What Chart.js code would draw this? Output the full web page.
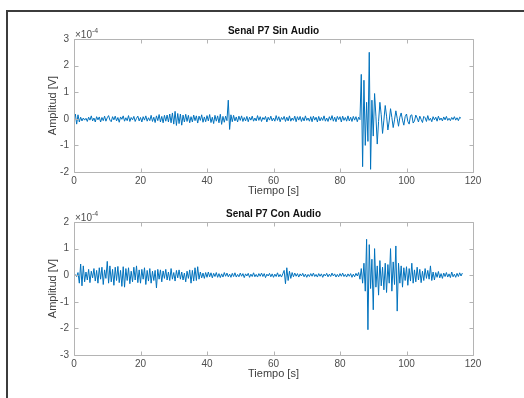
<!DOCTYPE html>
<html>
<head>
<meta charset="utf-8">
<script src="https://cdn.jsdelivr.net/npm/chart.js@4.4.1/dist/chart.umd.min.js"></script>
<style>
    html, body { margin: 0; padding: 0; background: #fff; }
    body { width: 524px; height: 398px; position: relative; overflow: hidden; }
    /* dark frame of the original screenshot (left and top edges only) */
    #frame { position: absolute; left: 6px; top: 10px; right: 0; bottom: 0; border-left: 2px solid #3c3c3c; border-top: 2px solid #3c3c3c; }
    .plot { position: absolute; left: 0; }
    #plot1 { top: 0; }
    #plot2 { top: 198px; }
</style>
</head>
<body>
<div id="frame"></div>
<canvas id="plot1" class="plot" width="524" height="200"></canvas>
<canvas id="plot2" class="plot" width="524" height="200"></canvas>
<script>
// sampling of both recordings (seconds)
var SAMPLE_STEP = 0.4;

// tick labels
var X_TICKS = [0, 20, 40, 60, 80, 100, 120];
var Y_TICKS_SIN = [-2, -1, 0, 1, 2, 3];
var Y_TICKS_CON = [-3, -2, -1, 0, 1, 2];
var Y_EXPONENT = '-4'; // values below are in units of 1e-4 V

var TITLES = ['Senal P7 Sin Audio', 'Senal P7 Con Audio'];

// Senal P7 sin audio, x 1e-4 V (one value every SAMPLE_STEP s)
var SIN_AUDIO = [
    0.00, 0.18, -0.20, 0.15, -0.12, 0.06, -0.08, 0.03, -0.05, 0.02,
    -0.10, 0.06, -0.05, 0.11, -0.08, 0.03, -0.12, 0.08, -0.04, 0.07,
    -0.12, 0.05, -0.07, 0.10, -0.09, 0.04, 0.12, -0.05, -0.11, 0.08,
    -0.04, 0.10, -0.08, 0.05, -0.13, 0.07, -0.02, 0.11, -0.09, 0.04,
    -0.07, 0.12, -0.10, 0.05, -0.04, 0.09, -0.10, 0.02, 0.10, -0.08,
    0.05, -0.12, 0.08, -0.05, 0.11, -0.09, 0.04, -0.07, 0.13, -0.10,
    0.06, -0.14, 0.11, -0.07, 0.16, -0.12, 0.09, -0.15, 0.13, -0.09,
    0.14, -0.12, 0.18, -0.15, 0.22, -0.20, 0.28, -0.25, 0.20, -0.18,
    0.18, -0.24, 0.14, -0.12, 0.17, -0.10, 0.13, -0.15, 0.08, -0.12,
    0.14, -0.07, 0.11, -0.16, 0.10, -0.06, 0.15, -0.13, 0.07, -0.11,
    0.12, -0.08, 0.16, -0.14, 0.06, -0.18, 0.13, -0.09, 0.11, -0.15,
    0.17, -0.21, 0.09, -0.13, 0.10, -0.07, 0.70, -0.40, 0.15, -0.11,
    0.13, -0.08, 0.07, -0.12, 0.10, -0.06, 0.11, -0.10, 0.05, -0.08,
    0.09, -0.11, 0.06, -0.05, 0.10, -0.09, 0.03, -0.08, 0.12, -0.06,
    0.08, -0.10, 0.05, -0.03, 0.09, -0.12, 0.06, -0.05, 0.10, -0.08,
    0.03, -0.09, 0.12, -0.06, 0.08, -0.11, 0.05, -0.03, 0.09, -0.10,
    0.06, -0.08, 0.11, -0.09, 0.03, -0.06, 0.10, -0.11, 0.08, -0.05,
    0.09, -0.10, 0.05, -0.08, 0.11, -0.06, 0.03, -0.09, 0.08, -0.11,
    0.10, -0.05, 0.06, -0.12, 0.09, -0.08, 0.05, -0.06, 0.11, -0.09,
    0.03, -0.10, 0.08, -0.05, 0.12, -0.09, 0.06, -0.11, 0.09, -0.03,
    0.08, -0.12, 0.10, -0.06, 0.05, -0.09, 0.11, -0.08, 0.06, -0.10,
    0.09, -0.05, 0.08, -0.11, 0.06, -0.03,
    1.67, -1.80, 1.45, -1.00, 0.62, -0.85, 2.50, -1.90, 0.70, -0.65,
    0.95, 0.10, -0.95, -0.10, 0.62, 0.15, -0.55, -0.05, 0.50, 0.10,
    -0.42, -0.08, 0.38, 0.05, -0.33, -0.04, 0.30, 0.02, -0.28, 0.06,
    0.22, -0.05, -0.24, 0.08, 0.18, -0.10, -0.20, 0.12, 0.15, -0.16,
    -0.08, 0.14, 0.03, -0.12, 0.10, -0.02, -0.14, 0.09, 0.04, -0.10,
    0.12, -0.06, 0.02, -0.11, 0.08, -0.04, 0.06, -0.09, 0.10, -0.05,
    0.03, -0.08, 0.07, -0.04, 0.09, -0.06, 0.02, -0.07, 0.05, -0.03,
    0.08, -0.05, 0.04, -0.07, 0.06, 0.02
];

// Senal P7 con audio, x 1e-4 V (one value every SAMPLE_STEP s)
var CON_AUDIO = [
    0.00, 0.02, -0.05, 0.10, -0.30, 0.42, -0.40, 0.35, -0.25, 0.12,
    -0.18, 0.22, -0.28, 0.15, -0.10, 0.25, -0.22, 0.18, -0.30, 0.28,
    -0.15, 0.30, -0.35, 0.20, -0.12, 0.52, -0.30, 0.35, -0.25, 0.22,
    -0.38, 0.30, -0.20, 0.33, -0.28, 0.18, -0.42, 0.32, -0.45, 0.25,
    -0.20, 0.28, -0.32, 0.15, -0.25, 0.30, -0.18, 0.35, -0.28, 0.20,
    -0.30, 0.22, -0.15, 0.28, -0.35, 0.18, -0.22, 0.25, -0.30, 0.15,
    -0.20, 0.18, -0.48, 0.22, -0.15, 0.20, -0.25, 0.16, -0.12, 0.22,
    -0.18, 0.12, -0.20, 0.25, -0.15, 0.10, -0.22, 0.18, -0.10, 0.20,
    -0.15, 0.12, -0.18, 0.08, -0.25, 0.15, -0.12, 0.20, -0.30, 0.18,
    -0.22, 0.28, -0.20, 0.32, -0.15, 0.12, -0.10, 0.08, -0.12, 0.10,
    -0.08, 0.12, -0.06, 0.09, -0.10, 0.07, -0.05, 0.10, -0.08, 0.06,
    -0.09, 0.05, -0.07, 0.10, -0.04, 0.08, -0.06, 0.04, -0.08, 0.07,
    -0.05, 0.09, -0.07, 0.03, -0.06, 0.08, -0.04, 0.06, -0.09, 0.05,
    -0.03, 0.07, -0.08, 0.04, -0.05, 0.09, -0.06, 0.03, -0.07, 0.06,
    -0.04, 0.08, -0.05, 0.06, -0.09, 0.04, -0.03, 0.07, -0.06, 0.05,
    -0.08, 0.04, -0.05, 0.09, -0.06, 0.03, -0.07, 0.05, 0.18, -0.32,
    0.28, -0.20, 0.15, -0.12, 0.10, -0.06, 0.08, -0.04, 0.06, -0.07,
    0.05, -0.03, 0.07, -0.06, 0.04, -0.08, 0.03, -0.05, 0.06, -0.04,
    0.08, -0.05, 0.03, -0.07, 0.06, -0.04, 0.05, -0.08, 0.04, -0.03,
    0.07, -0.06, 0.04, -0.05, 0.08, -0.03, 0.05, -0.07, 0.03, -0.06,
    0.06, -0.04, 0.08, -0.05, 0.03, -0.07, 0.05, -0.04, 0.06, -0.08,
    0.04, -0.06, 0.07, -0.03, 0.10, -0.15, 0.25, -0.30, 0.45, -0.60,
    1.35, -2.05, 1.15, -0.50, 0.60, -1.30, 1.00, -0.45, 0.35, -0.75,
    0.55, -0.40, 0.30, -0.55, 0.45, -0.65, 0.40, -0.30, 1.00, -0.60,
    0.50, -0.35, 1.10, -1.35, 0.45, -0.30, 0.35, -0.45, 0.28, -0.20,
    0.32, -0.38, 0.25, -0.22, 0.45, -0.30, 0.20, -0.25, 0.30, -0.18,
    0.22, -0.28, 0.15, -0.20, 0.25, -0.12, 0.18, -0.15, 0.35, -0.20,
    0.12, -0.18, 0.10, -0.08, 0.14, -0.10, 0.06, -0.12, 0.08, -0.05,
    0.10, -0.07, 0.05, -0.09, 0.12, -0.06, 0.04, -0.08, 0.07, -0.05,
    0.09, -0.03, 0.08
];

Chart.defaults.font.family = '"Liberation Sans", Arial, Helvetica, sans-serif';
Chart.defaults.color = '#4d4d4d';

//turns the value list into {x, y} points on the sampling grid
function toPoints(values) {
    return values.map(function(v, i) {
        return { x: i * SAMPLE_STEP, y: v };
    });
}

//MATLAB style box: full frame round the axes, ticks pointing inwards, and the x10^n label
var matlabBox = {
    id: 'matlabBox',
    afterDatasetsDraw: function(chart) {
        var ctx = chart.ctx;
        var a = chart.chartArea;
        var xs = chart.scales.x;
        var ys = chart.scales.y;
        var len = 4;
        var l = Math.round(a.left) + 0.5, r = Math.round(a.right) + 0.5;
        var t = Math.round(a.top) + 0.5, b = Math.round(a.bottom) + 0.5;

        ctx.save();
        ctx.strokeStyle = '#b4b4b4';
        ctx.lineWidth = 1;
        ctx.beginPath();
        ctx.rect(l, t, r - l, b - t);
        xs.ticks.forEach(function(tk) {
            var px = Math.round(xs.getPixelForValue(tk.value)) + 0.5;
            ctx.moveTo(px, b); ctx.lineTo(px, b - len);
            ctx.moveTo(px, t); ctx.lineTo(px, t + len);
        });
        ys.ticks.forEach(function(tk) {
            var py = Math.round(ys.getPixelForValue(tk.value)) + 0.5;
            ctx.moveTo(l, py); ctx.lineTo(l + len, py);
            ctx.moveTo(r, py); ctx.lineTo(r - len, py);
        });
        ctx.stroke();

        //exponent label above the y axis
        ctx.fillStyle = '#4d4d4d';
        ctx.textBaseline = 'alphabetic';
        ctx.textAlign = 'left';
        ctx.font = '10px "Liberation Sans", Arial, sans-serif';
        ctx.fillText('\u00d710', a.left + 1, a.top - 1);
        var w = ctx.measureText('\u00d710').width;
        ctx.font = '7px "Liberation Sans", Arial, sans-serif';
        ctx.fillText(Y_EXPONENT, a.left + 1 + w, a.top - 6);
        ctx.restore();
    }
};

function createPlot(canvasId, title, values, yTicks, titlePad, bottomPad) {
    var ctx = document.getElementById(canvasId);
    return new Chart(ctx, {
        type: 'line',
        data: {
            datasets: [{
                data: toPoints(values),
                borderColor: '#0072BD',
                borderWidth: 1,
                pointRadius: 0,
                tension: 0,
                fill: false
            }]
        },
        options: {
            responsive: false,
            animation: false,
            layout: { padding: { left: 0, right: 51, top: 0, bottom: bottomPad } },
            plugins: {
                legend: { display: false },
                tooltip: { enabled: false },
                title: {
                    display: true,
                    fullSize: false, // centre the title over the axes, like MATLAB
                    text: title,
                    color: '#111',
                    font: { size: 10, weight: 'bold' },
                    padding: { top: titlePad, bottom: 2 }
                }
            },
            scales: {
                x: {
                    type: 'linear',
                    min: X_TICKS[0],
                    max: X_TICKS[X_TICKS.length - 1],
                    afterBuildTicks: function(scale) {
                        scale.ticks = X_TICKS.map(function(v) { return { value: v }; });
                    },
                    afterFit: function(scale) { scale.height = 26; },
                    grid: { display: false, drawTicks: false },
                    border: { display: false },
                    ticks: { font: { size: 10 }, padding: 3, maxRotation: 0, autoSkip: false },
                    title: { display: true, text: 'Tiempo [s]', color: '#404040', font: { size: 11 }, padding: { top: 0, bottom: 0 } }
                },
                y: {
                    min: yTicks[0],
                    max: yTicks[yTicks.length - 1],
                    afterBuildTicks: function(scale) {
                        scale.ticks = yTicks.map(function(v) { return { value: v }; });
                    },
                    afterFit: function(scale) { scale.width = 74; },
                    grid: { display: false, drawTicks: false },
                    border: { display: false },
                    ticks: { font: { size: 10 }, padding: 5 },
                    title: { display: true, text: 'Amplitud [V]', color: '#404040', font: { size: 11 }, padding: { top: 46, bottom: 0 } }
                }
            }
        },
        plugins: [matlabBox]
    });
}

createPlot('plot1', TITLES[0], SIN_AUDIO, Y_TICKS_SIN, 25, 2);
createPlot('plot2', TITLES[1], CON_AUDIO, Y_TICKS_CON, 10, 17);
</script>
</body>
</html>
